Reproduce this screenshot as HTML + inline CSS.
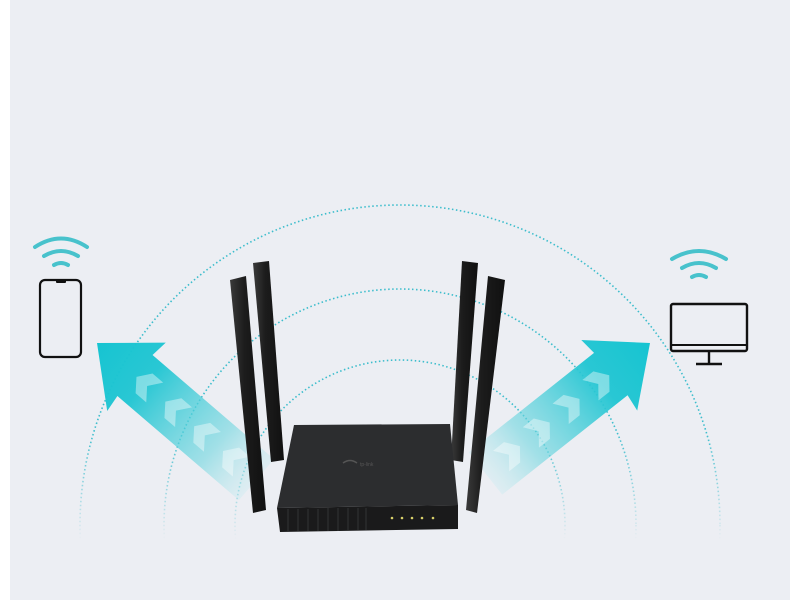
<!DOCTYPE html>
<html><head><style>
html,body{margin:0;padding:0;background:#fff;overflow:hidden;width:800px;height:600px;}
svg{display:block}
</style></head><body>
<svg width="800" height="600" viewBox="0 0 800 600" xmlns="http://www.w3.org/2000/svg">
<defs>
<linearGradient id="ga" x1="1" y1="0" x2="0" y2="0">
<stop offset="0" stop-color="#16c4d1" stop-opacity="1"/>
<stop offset="0.3" stop-color="#1fc5d2" stop-opacity="0.95"/>
<stop offset="0.75" stop-color="#6fd6df" stop-opacity="0.6"/>
<stop offset="1" stop-color="#b5e9ee" stop-opacity="0.25"/>
</linearGradient>
<linearGradient id="ant" x1="0" y1="0" x2="1" y2="0">
<stop offset="0" stop-color="#3a3a3a"/><stop offset="0.4" stop-color="#1c1c1c"/><stop offset="1" stop-color="#101010"/>
</linearGradient>
<linearGradient id="fade" x1="0" y1="0" x2="0" y2="1">
<stop offset="0" stop-color="#fff"/><stop offset="0.8" stop-color="#fff"/><stop offset="1" stop-color="#000"/>
</linearGradient>
<mask id="m"><rect x="0" y="0" width="800" height="540" fill="url(#fade)"/></mask>
</defs>
<rect x="10" y="0" width="780" height="600" fill="#eceef3"/>
<g fill="none" stroke="#3cbdcc" stroke-width="1.6" stroke-dasharray="1.5 2.5" mask="url(#m)">
<circle cx="400" cy="525" r="320"/>
<circle cx="400" cy="525" r="236"/>
<circle cx="400" cy="525" r="165"/>
</g>
<!-- arrows -->
<g transform="translate(650,343) rotate(-38.4)">
<polygon points="0,0 -52,-45 -50,-27 -210,-27 -210,27 -50,27 -52,45" fill="url(#ga)"/>
<g fill="#ffffff" opacity="0.4">
<polygon points="-62,-13 -76,-13 -66,0 -76,13 -62,13 -52,0"/>
<polygon points="-100,-13 -114,-13 -104,0 -114,13 -100,13 -90,0"/>
<polygon points="-138,-13 -152,-13 -142,0 -152,13 -138,13 -128,0"/>
<polygon points="-176,-13 -190,-13 -180,0 -190,13 -176,13 -166,0"/>
</g>
</g>
<g transform="translate(97,343) rotate(-139.4) scale(1,-1)">
<polygon points="0,0 -52,-45 -50,-27 -210,-27 -210,27 -50,27 -52,45" fill="url(#ga)"/>
<g fill="#ffffff" opacity="0.4">
<polygon points="-62,-13 -76,-13 -66,0 -76,13 -62,13 -52,0"/>
<polygon points="-100,-13 -114,-13 -104,0 -114,13 -100,13 -90,0"/>
<polygon points="-138,-13 -152,-13 -142,0 -152,13 -138,13 -128,0"/>
<polygon points="-176,-13 -190,-13 -180,0 -190,13 -176,13 -166,0"/>
</g>
</g>
<!-- phone -->
<rect x="40" y="280" width="41" height="77" rx="5" fill="none" stroke="#111" stroke-width="2.2"/>
<rect x="56" y="280" width="10" height="3" rx="1" fill="#111"/>
<g fill="none" stroke="#48c2cc" stroke-width="4" stroke-linecap="round">
<path d="M35,247 Q61,230 87,247"/>
<path d="M44,256 Q61,246 78,256"/>
<path d="M54,265 Q61,261 68,265"/>
</g>
<!-- monitor -->
<rect x="671" y="304" width="76" height="47" rx="2" fill="none" stroke="#111" stroke-width="2.4"/>
<line x1="671" y1="345" x2="747" y2="345" stroke="#111" stroke-width="2"/>
<line x1="709" y1="351" x2="709" y2="363" stroke="#111" stroke-width="2.4"/>
<line x1="696" y1="364" x2="722" y2="364" stroke="#111" stroke-width="2.6"/>
<g fill="none" stroke="#48c2cc" stroke-width="4" stroke-linecap="round">
<path d="M672,259 Q699,243 726,259"/>
<path d="M682,268 Q699,258 716,268"/>
<path d="M692,277 Q699,273 706,277"/>
</g>
<!-- antennas back -->
<polygon points="253,263 269,261 284,460 271,462" fill="url(#ant)"/>
<polygon points="462,261 478,263 463,462 451,460" fill="url(#ant)"/>
<!-- router body -->
<polygon points="294,425 450,424 458,505 277,508" fill="#2c2d2f"/>
<polygon points="277,508 458,505 458,529 280,532" fill="#1a1a1b"/>
<g stroke="#333436" stroke-width="1">
<line x1="288" y1="509" x2="288" y2="531"/><line x1="298" y1="509" x2="298" y2="531"/>
<line x1="308" y1="509" x2="308" y2="531"/><line x1="318" y1="509" x2="318" y2="531"/>
<line x1="328" y1="508" x2="328" y2="531"/><line x1="338" y1="508" x2="338" y2="531"/>
<line x1="348" y1="508" x2="348" y2="530"/><line x1="358" y1="508" x2="358" y2="530"/>
<line x1="366" y1="508" x2="366" y2="530"/>
</g>
<g fill="#d8d06a">
<circle cx="392" cy="518" r="1.3"/><circle cx="402" cy="518" r="1.3"/><circle cx="412" cy="518" r="1.3"/><circle cx="422" cy="518" r="1.3"/><circle cx="433" cy="518" r="1.3"/>
</g>
<path d="M343,463 q7,-5 14,0" fill="none" stroke="#555" stroke-width="1.5"/>
<text x="360" y="466" font-family="Liberation Sans, sans-serif" font-size="5" fill="#555">tp-link</text>
<!-- antennas front -->
<polygon points="230,280 246,276 266,510 253,513" fill="url(#ant)"/>
<polygon points="488,276 505,280 477,513 466,510" fill="url(#ant)"/>
</svg>
</body></html>
